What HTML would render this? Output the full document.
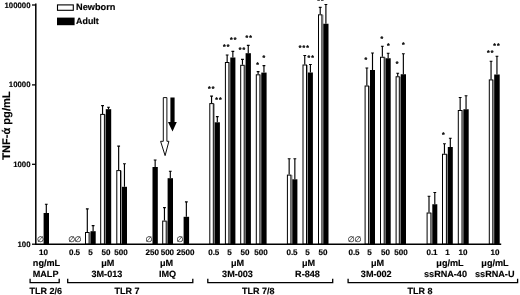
<!DOCTYPE html>
<html lang="en"><head><meta charset="utf-8"><title>TNF-α production by TLR agonists</title>
<style>html,body{margin:0;padding:0;background:#fff}body{width:520px;height:295px;overflow:hidden}svg{display:block}text{font-family:"Liberation Sans",Arial,Helvetica,sans-serif;font-weight:bold;fill:#000;stroke:#000;stroke-width:.15px;text-rendering:geometricPrecision}.t{font-size:7.8px}.l{font-size:8.05px}.u{font-size:9.1px}.g{font-size:9px}.y{font-size:11.1px}.s{font-size:6.8px;letter-spacing:1.1px;text-rendering:geometricPrecision;stroke:#000;stroke-width:0.3px}.n{font-size:8px;font-weight:normal;fill:#111;stroke-width:.1px}</style></head><body>
<svg width="520" height="295" viewBox="0 0 520 295">
<rect width="520" height="295" fill="#fff"/>
<rect x="89.60" y="232.50" width="1.10" height="11.70" fill="#9c9c9c"/>
<rect x="104.90" y="114.40" width="1.10" height="129.80" fill="#9c9c9c"/>
<rect x="121.00" y="170.60" width="1.10" height="73.60" fill="#9c9c9c"/>
<rect x="166.70" y="221.10" width="1.10" height="23.10" fill="#9c9c9c"/>
<rect x="213.80" y="103.60" width="1.10" height="140.60" fill="#9c9c9c"/>
<rect x="229.40" y="62.50" width="1.10" height="181.70" fill="#9c9c9c"/>
<rect x="244.70" y="65.30" width="1.10" height="178.90" fill="#9c9c9c"/>
<rect x="260.40" y="74.80" width="1.10" height="169.40" fill="#9c9c9c"/>
<rect x="291.40" y="175.10" width="1.10" height="69.10" fill="#9c9c9c"/>
<rect x="307.00" y="65.00" width="1.10" height="179.20" fill="#9c9c9c"/>
<rect x="322.40" y="14.80" width="1.10" height="229.40" fill="#9c9c9c"/>
<rect x="369.10" y="86.00" width="1.10" height="158.20" fill="#9c9c9c"/>
<rect x="384.70" y="57.25" width="1.10" height="186.95" fill="#9c9c9c"/>
<rect x="399.80" y="76.75" width="1.10" height="167.45" fill="#9c9c9c"/>
<rect x="431.40" y="213.00" width="1.10" height="31.20" fill="#9c9c9c"/>
<rect x="446.90" y="154.25" width="1.10" height="89.95" fill="#9c9c9c"/>
<rect x="462.50" y="110.50" width="1.10" height="133.70" fill="#9c9c9c"/>
<rect x="493.30" y="79.90" width="1.10" height="164.30" fill="#9c9c9c"/>
<path d="M46.30 213.00V204.20M44.90 204.20H47.70" stroke="#000" stroke-width="1.15" fill="none"/>
<rect x="43.60" y="213.00" width="5.40" height="31.20" fill="#000"/>
<path d="M87.30 232.00V208.80M85.90 208.80H88.70" stroke="#000" stroke-width="1.15" fill="none"/>
<rect x="85.50" y="232.50" width="3.60" height="11.70" fill="#fff" stroke="#000" stroke-width="1"/>
<path d="M93.10 231.20V225.60M91.70 225.60H94.50" stroke="#000" stroke-width="1.15" fill="none"/>
<rect x="90.50" y="231.20" width="5.20" height="13.00" fill="#000"/>
<path d="M102.55 113.90V105.60M101.15 105.60H103.95" stroke="#000" stroke-width="1.15" fill="none"/>
<rect x="100.70" y="114.40" width="3.70" height="129.80" fill="#fff" stroke="#000" stroke-width="1"/>
<path d="M108.50 109.20V107.20M107.10 107.20H109.90" stroke="#000" stroke-width="1.15" fill="none"/>
<rect x="105.80" y="109.20" width="5.40" height="135.00" fill="#000"/>
<path d="M118.65 170.10V146.10M117.25 146.10H120.05" stroke="#000" stroke-width="1.15" fill="none"/>
<rect x="116.80" y="170.60" width="3.70" height="73.60" fill="#fff" stroke="#000" stroke-width="1"/>
<path d="M124.45 186.80V163.70M123.05 163.70H125.85" stroke="#000" stroke-width="1.15" fill="none"/>
<rect x="121.90" y="186.80" width="5.10" height="57.40" fill="#000"/>
<path d="M155.15 167.00V160.00M153.75 160.00H156.55" stroke="#000" stroke-width="1.15" fill="none"/>
<rect x="152.50" y="167.00" width="5.30" height="77.20" fill="#000"/>
<path d="M164.45 220.60V207.60M163.05 207.60H165.85" stroke="#000" stroke-width="1.15" fill="none"/>
<rect x="162.70" y="221.10" width="3.50" height="23.10" fill="#fff" stroke="#000" stroke-width="1"/>
<path d="M170.30 178.20V171.20M168.90 171.20H171.70" stroke="#000" stroke-width="1.15" fill="none"/>
<rect x="167.60" y="178.20" width="5.40" height="66.00" fill="#000"/>
<path d="M186.35 216.80V201.90M184.95 201.90H187.75" stroke="#000" stroke-width="1.15" fill="none"/>
<rect x="183.60" y="216.80" width="5.50" height="27.40" fill="#000"/>
<path d="M211.55 103.10V96.10M210.15 96.10H212.95" stroke="#000" stroke-width="1.15" fill="none"/>
<rect x="209.80" y="103.60" width="3.50" height="140.60" fill="#fff" stroke="#000" stroke-width="1"/>
<path d="M217.30 122.30V116.60M215.90 116.60H218.70" stroke="#000" stroke-width="1.15" fill="none"/>
<rect x="214.70" y="122.30" width="5.20" height="121.90" fill="#000"/>
<path d="M227.15 62.00V55.00M225.75 55.00H228.55" stroke="#000" stroke-width="1.15" fill="none"/>
<rect x="225.40" y="62.50" width="3.50" height="181.70" fill="#fff" stroke="#000" stroke-width="1"/>
<path d="M232.85 57.50V51.30M231.45 51.30H234.25" stroke="#000" stroke-width="1.15" fill="none"/>
<rect x="230.30" y="57.50" width="5.10" height="186.70" fill="#000"/>
<path d="M242.45 64.80V59.30M241.05 59.30H243.85" stroke="#000" stroke-width="1.15" fill="none"/>
<rect x="240.70" y="65.30" width="3.50" height="178.90" fill="#fff" stroke="#000" stroke-width="1"/>
<path d="M248.25 53.20V45.40M246.85 45.40H249.65" stroke="#000" stroke-width="1.15" fill="none"/>
<rect x="245.60" y="53.20" width="5.30" height="191.00" fill="#000"/>
<path d="M258.10 74.30V71.60M256.70 71.60H259.50" stroke="#000" stroke-width="1.15" fill="none"/>
<rect x="256.30" y="74.80" width="3.60" height="169.40" fill="#fff" stroke="#000" stroke-width="1"/>
<path d="M263.95 72.60V65.60M262.55 65.60H265.35" stroke="#000" stroke-width="1.15" fill="none"/>
<rect x="261.30" y="72.60" width="5.30" height="171.60" fill="#000"/>
<path d="M289.15 174.60V158.70M287.75 158.70H290.55" stroke="#000" stroke-width="1.15" fill="none"/>
<rect x="287.40" y="175.10" width="3.50" height="69.10" fill="#fff" stroke="#000" stroke-width="1"/>
<path d="M294.85 179.30V158.70M293.45 158.70H296.25" stroke="#000" stroke-width="1.15" fill="none"/>
<rect x="292.30" y="179.30" width="5.10" height="64.90" fill="#000"/>
<path d="M304.75 64.50V55.50M303.35 55.50H306.15" stroke="#000" stroke-width="1.15" fill="none"/>
<rect x="303.00" y="65.00" width="3.50" height="179.20" fill="#fff" stroke="#000" stroke-width="1"/>
<path d="M310.40 72.50V64.50M309.00 64.50H311.80" stroke="#000" stroke-width="1.15" fill="none"/>
<rect x="307.90" y="72.50" width="5.00" height="171.70" fill="#000"/>
<path d="M320.20 14.30V7.30M318.80 7.30H321.60" stroke="#000" stroke-width="1.15" fill="none"/>
<rect x="318.50" y="14.80" width="3.40" height="229.40" fill="#fff" stroke="#000" stroke-width="1"/>
<path d="M325.90 23.75V4.50M324.50 4.50H327.30" stroke="#000" stroke-width="1.15" fill="none"/>
<rect x="323.30" y="23.75" width="5.20" height="220.45" fill="#000"/>
<path d="M366.85 85.50V68.00M365.45 68.00H368.25" stroke="#000" stroke-width="1.15" fill="none"/>
<rect x="365.10" y="86.00" width="3.50" height="158.20" fill="#fff" stroke="#000" stroke-width="1"/>
<path d="M372.50 70.00V53.00M371.10 53.00H373.90" stroke="#000" stroke-width="1.15" fill="none"/>
<rect x="370.00" y="70.00" width="5.00" height="174.20" fill="#000"/>
<path d="M382.35 56.75V46.25M380.95 46.25H383.75" stroke="#000" stroke-width="1.15" fill="none"/>
<rect x="380.50" y="57.25" width="3.70" height="186.95" fill="#fff" stroke="#000" stroke-width="1"/>
<path d="M388.15 58.25V53.25M386.75 53.25H389.55" stroke="#000" stroke-width="1.15" fill="none"/>
<rect x="385.60" y="58.25" width="5.10" height="185.95" fill="#000"/>
<path d="M397.70 76.25V73.25M396.30 73.25H399.10" stroke="#000" stroke-width="1.15" fill="none"/>
<rect x="396.10" y="76.75" width="3.20" height="167.45" fill="#fff" stroke="#000" stroke-width="1"/>
<path d="M403.35 74.25V53.75M401.95 53.75H404.75" stroke="#000" stroke-width="1.15" fill="none"/>
<rect x="400.70" y="74.25" width="5.30" height="169.95" fill="#000"/>
<path d="M429.00 212.50V196.25M427.60 196.25H430.40" stroke="#000" stroke-width="1.15" fill="none"/>
<rect x="427.10" y="213.00" width="3.80" height="31.20" fill="#fff" stroke="#000" stroke-width="1"/>
<path d="M434.80 204.25V192.50M433.40 192.50H436.20" stroke="#000" stroke-width="1.15" fill="none"/>
<rect x="432.30" y="204.25" width="5.00" height="39.95" fill="#000"/>
<path d="M444.45 153.75V143.75M443.05 143.75H445.85" stroke="#000" stroke-width="1.15" fill="none"/>
<rect x="442.50" y="154.25" width="3.90" height="89.95" fill="#fff" stroke="#000" stroke-width="1"/>
<path d="M450.30 147.00V138.25M448.90 138.25H451.70" stroke="#000" stroke-width="1.15" fill="none"/>
<rect x="447.80" y="147.00" width="5.00" height="97.20" fill="#000"/>
<path d="M460.15 110.00V97.50M458.75 97.50H461.55" stroke="#000" stroke-width="1.15" fill="none"/>
<rect x="458.30" y="110.50" width="3.70" height="133.70" fill="#fff" stroke="#000" stroke-width="1"/>
<path d="M466.05 109.25V95.75M464.65 95.75H467.45" stroke="#000" stroke-width="1.15" fill="none"/>
<rect x="463.40" y="109.25" width="5.30" height="134.95" fill="#000"/>
<path d="M491.05 79.40V61.20M489.65 61.20H492.45" stroke="#000" stroke-width="1.15" fill="none"/>
<rect x="489.30" y="79.90" width="3.50" height="164.30" fill="#fff" stroke="#000" stroke-width="1"/>
<path d="M496.95 74.50V56.25M495.55 56.25H498.35" stroke="#000" stroke-width="1.15" fill="none"/>
<rect x="494.20" y="74.50" width="5.50" height="169.70" fill="#000"/>
<path d="M35.8 3.6V244.95M35.05 244.2H501.2" stroke="#000" stroke-width="1.5" fill="none"/>
<path d="M32 5H35.8" stroke="#000" stroke-width="1.3"/>
<path d="M32 84.9H35.8" stroke="#000" stroke-width="1.3"/>
<path d="M32 164.3H35.8" stroke="#000" stroke-width="1.3"/>
<path d="M32 244.2H35.8" stroke="#000" stroke-width="1.3"/>
<text class="t" x="30.5" y="7.55" text-anchor="end">100000</text>
<text class="t" x="30.5" y="87.45" text-anchor="end">10000</text>
<text class="t" x="30.5" y="166.85000000000002" text-anchor="end">1000</text>
<text class="t" x="30.5" y="246.95000000000002" text-anchor="end">100</text>
<text class="y" transform="translate(10.2 125.6) rotate(-90)" text-anchor="middle">TNF-ά pg/mL</text>
<rect x="57.5" y="4.9" width="15.8" height="5.4" fill="#fff" stroke="#000" stroke-width="1.1"/>
<rect x="57" y="17.6" width="17.6" height="7.6" fill="#000"/>
<text class="g" x="76.1" y="10" style="font-size:9.2px">Newborn</text>
<text class="g" x="76.1" y="24.3" style="font-size:8.9px">Adult</text>
<path d="M163.3 97.6H166.9V141.3H168.9L165.1 155.6L160.6 141.3H163.3Z" fill="#fff" stroke="#000" stroke-width="0.95" stroke-linejoin="miter"/>
<path d="M170.4 97.4H174.6V122H176.8L172.5 131.4L168 122H170.4Z" fill="#000"/>
<text class="s" x="211.75" y="90.7" text-anchor="middle">**</text>
<text class="s" x="219.05" y="102.15" text-anchor="middle">**</text>
<text class="s" x="226.75" y="49.15" text-anchor="middle">**</text>
<text class="s" x="233.75" y="42.15" text-anchor="middle">**</text>
<text class="s" x="242.55" y="52.15" text-anchor="middle">**</text>
<text class="s" x="249.35000000000002" y="39.6" text-anchor="middle">**</text>
<text class="s" x="258.05" y="67.15" text-anchor="middle">*</text>
<text class="s" x="264.3" y="60.4" text-anchor="middle">*</text>
<text class="s" x="304.3" y="50.4" text-anchor="middle">***</text>
<text class="s" x="311.15000000000003" y="60.4" text-anchor="middle">**</text>
<text class="s" x="321.05" y="2.5999999999999996" text-anchor="middle">**</text>
<text class="s" x="366.35" y="61.9" text-anchor="middle">*</text>
<text class="s" x="382.45" y="40.5" text-anchor="middle">*</text>
<text class="s" x="388.85" y="48.0" text-anchor="middle">*</text>
<text class="s" x="397.65000000000003" y="65.7" text-anchor="middle">*</text>
<text class="s" x="403.85" y="47.199999999999996" text-anchor="middle">*</text>
<text class="s" x="443.8" y="136.65" text-anchor="middle">*</text>
<text class="s" x="490.75" y="55.4" text-anchor="middle">**</text>
<text class="s" x="496.95" y="47.65" text-anchor="middle">**</text>
<text class="n" x="40.4" y="242.3" text-anchor="middle">∅</text>
<text class="n" x="71.8" y="242.3" text-anchor="middle">∅</text>
<text class="n" x="78.0" y="242.3" text-anchor="middle">∅</text>
<text class="n" x="149" y="242.3" text-anchor="middle">∅</text>
<text class="n" x="180.1" y="242.3" text-anchor="middle">∅</text>
<text class="n" x="351.2" y="242.3" text-anchor="middle">∅</text>
<text class="n" x="358" y="242.3" text-anchor="middle">∅</text>
<text class="l" x="43.5" y="255.4" text-anchor="middle">10</text>
<text class="l" x="74.5" y="255.4" text-anchor="middle">0.5</text>
<text class="l" x="90.5" y="255.4" text-anchor="middle">5</text>
<text class="l" x="105.9" y="255.4" text-anchor="middle">50</text>
<text class="l" x="121" y="255.4" text-anchor="middle">500</text>
<text class="l" x="152.3" y="255.4" text-anchor="middle">250</text>
<text class="l" x="167.4" y="255.4" text-anchor="middle">500</text>
<text class="l" x="185.5" y="255.4" text-anchor="middle">2500</text>
<text class="l" x="213.75" y="255.4" text-anchor="middle">0.5</text>
<text class="l" x="229.5" y="255.4" text-anchor="middle">5</text>
<text class="l" x="245" y="255.4" text-anchor="middle">50</text>
<text class="l" x="261" y="255.4" text-anchor="middle">500</text>
<text class="l" x="292" y="255.4" text-anchor="middle">0.5</text>
<text class="l" x="307.5" y="255.4" text-anchor="middle">5</text>
<text class="l" x="323" y="255.4" text-anchor="middle">50</text>
<text class="l" x="354" y="255.4" text-anchor="middle">0.5</text>
<text class="l" x="369.5" y="255.4" text-anchor="middle">5</text>
<text class="l" x="385.6" y="255.4" text-anchor="middle">50</text>
<text class="l" x="401" y="255.4" text-anchor="middle">500</text>
<text class="l" x="432" y="255.4" text-anchor="middle">0.1</text>
<text class="l" x="447.5" y="255.4" text-anchor="middle">1</text>
<text class="l" x="463" y="255.4" text-anchor="middle">10</text>
<text class="l" x="495" y="255.4" text-anchor="middle">10</text>
<text class="u" x="46.5" y="266.1" text-anchor="middle">ng/mL</text>
<text class="u" x="107.7" y="266.1" text-anchor="middle">μM</text>
<text class="u" x="166.5" y="266.1" text-anchor="middle">μM</text>
<text class="u" x="237.5" y="266.1" text-anchor="middle">μM</text>
<text class="u" x="308.5" y="266.1" text-anchor="middle">μM</text>
<text class="u" x="377.5" y="266.1" text-anchor="middle">μM</text>
<text class="u" x="450" y="266.1" text-anchor="middle">μg/mL</text>
<text class="u" x="495" y="266.1" text-anchor="middle">μg/mL</text>
<text class="u" x="45.6" y="277.3" text-anchor="middle">MALP</text>
<text class="u" x="106.9" y="277.3" text-anchor="middle">3M-013</text>
<text class="u" x="167.6" y="277.3" text-anchor="middle">IMQ</text>
<text class="u" x="237.5" y="277.3" text-anchor="middle">3M-003</text>
<text class="u" x="307.5" y="277.3" text-anchor="middle">R-848</text>
<text class="u" x="376.25" y="277.3" text-anchor="middle">3M-002</text>
<text class="u" x="445.5" y="277.3" text-anchor="middle">ssRNA-40</text>
<text class="u" x="494.75" y="277.3" text-anchor="middle">ssRNA-U</text>
<path d="M30.1 278.8V282.65H59.2V278.8" stroke="#000" stroke-width="1.3" fill="none"/>
<path d="M67.7 278.8V282.65H192.8V278.8" stroke="#000" stroke-width="1.3" fill="none"/>
<path d="M207.8 278.8V282.65H332.7V278.8" stroke="#000" stroke-width="1.3" fill="none"/>
<path d="M348.1 278.8V282.65H517.6V278.8" stroke="#000" stroke-width="1.3" fill="none"/>
<text class="g" x="45.8" y="293.9" text-anchor="middle">TLR 2/6</text>
<text class="g" x="126.9" y="293.9" text-anchor="middle">TLR 7</text>
<text class="g" x="258.2" y="293.9" text-anchor="middle">TLR 7/8</text>
<text class="g" x="420" y="293.9" text-anchor="middle">TLR 8</text>
</svg></body></html>
